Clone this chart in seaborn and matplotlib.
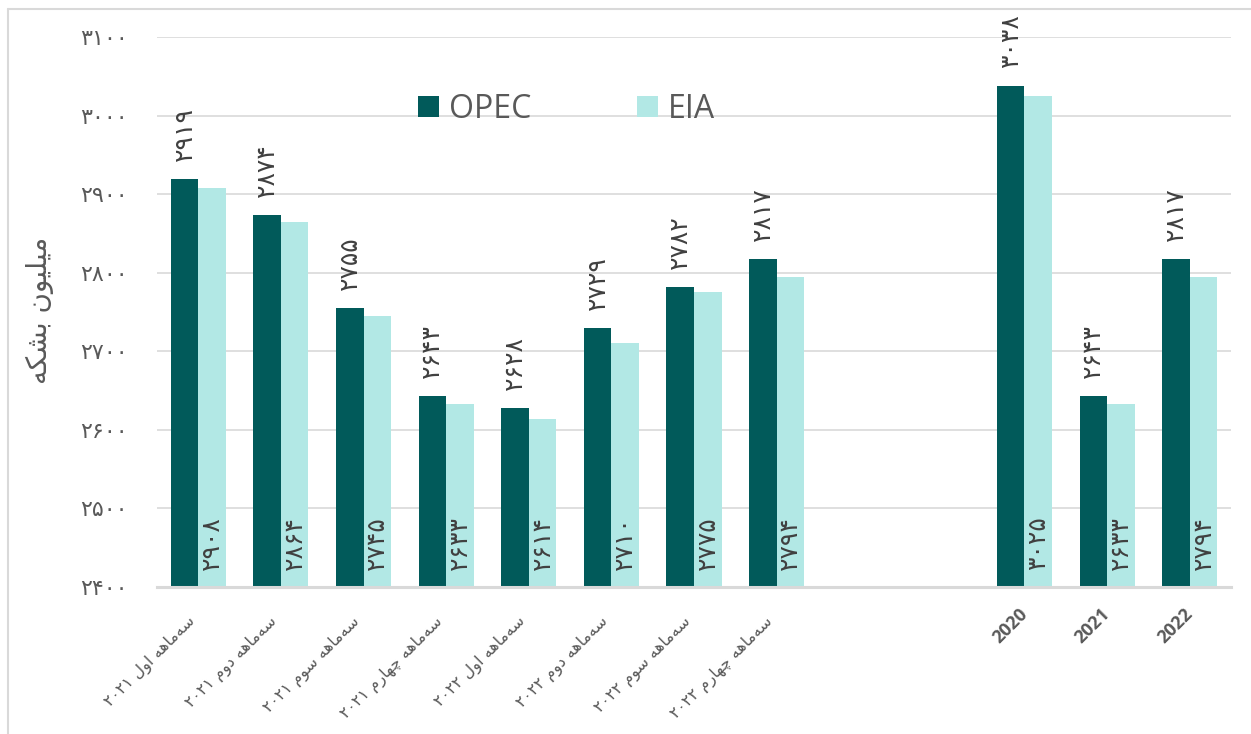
import re
import matplotlib
matplotlib.use("Agg")
import matplotlib.pyplot as plt
import matplotlib.transforms as mtransforms
from matplotlib.patches import Patch
from matplotlib.lines import Line2D
import pandas as pd
import seaborn as sns

# ---------------- data ----------------
categories = ["سه‌ماهه اول ۲۰۲۱", "سه‌ماهه دوم ۲۰۲۱", "سه‌ماهه سوم ۲۰۲۱", "سه‌ماهه چهارم ۲۰۲۱",
              "سه‌ماهه اول ۲۰۲۲", "سه‌ماهه دوم ۲۰۲۲", "سه‌ماهه سوم ۲۰۲۲", "سه‌ماهه چهارم ۲۰۲۲",
              "gap1", "gap2", "2020", "2021", "2022"]
opec = [2919, 2874, 2755, 2643, 2628, 2729, 2782, 2817, None, None, 3038, 2643, 2817]
eia = [2908, 2864, 2745, 2633, 2614, 2710, 2775, 2794, None, None, 3025, 2633, 2794]
series_names = ["OPEC", "EIA"]
y_ticks = [2400, 2500, 2600, 2700, 2800, 2900, 3000, 3100]
y_label = "میلیون بشکه"

colors = {"OPEC": "#015A5A", "EIA": "#B2E8E5"}

# ---------------- simple Persian shaping ----------------
FORMS = {
    'ا': ('\uFE8D', '\uFE8E', None, None),
    'ب': ('\uFE8F', '\uFE90', '\uFE91', '\uFE92'),
    'د': ('\uFEA9', '\uFEAA', None, None),
    'ر': ('\uFEAD', '\uFEAE', None, None),
    'س': ('\uFEB1', '\uFEB2', '\uFEB3', '\uFEB4'),
    'ش': ('\uFEB5', '\uFEB6', '\uFEB7', '\uFEB8'),
    'ل': ('\uFEDD', '\uFEDE', '\uFEDF', '\uFEE0'),
    'م': ('\uFEE1', '\uFEE2', '\uFEE3', '\uFEE4'),
    'ن': ('\uFEE5', '\uFEE6', '\uFEE7', '\uFEE8'),
    'ه': ('\uFEE9', '\uFEEA', '\uFEEB', '\uFEEC'),
    'و': ('\uFEED', '\uFEEE', None, None),
    'ی': ('\uFBFC', '\uFBFD', '\uFBFE', '\uFBFF'),
    'ک': ('\uFB8E', '\uFB8F', '\uFB90', '\uFB91'),
    'چ': ('\uFB7A', '\uFB7B', '\uFB7C', '\uFB7D'),
}


def shape(text):
    out = []
    for i, ch in enumerate(text):
        if ch == '\u200c':
            continue
        if ch not in FORMS:
            out.append(ch)
            continue
        prev = text[i - 1] if i > 0 else None
        nxt = text[i + 1] if i + 1 < len(text) else None
        jp = prev in FORMS and FORMS[prev][2] is not None
        jn = FORMS[ch][2] is not None and nxt in FORMS
        iso, fin, ini, med = FORMS[ch]
        if jp and jn:
            out.append(med)
        elif jp:
            out.append(fin)
        elif jn:
            out.append(ini)
        else:
            out.append(iso)
    return ''.join(out)


def visual(text):
    if not re.search('[\u0600-\u06FF]', text) or re.fullmatch('[۰-۹]+', text):
        return text
    tokens = re.findall('[۰-۹0-9]+|[^۰-۹0-9]+', text)
    res = []
    for t in reversed(tokens):
        if re.fullmatch('[۰-۹0-9]+', t):
            res.append(t)
        else:
            res.append(shape(t)[::-1])
    return ''.join(res)


FA = str.maketrans('0123456789', '۰۱۲۳۴۵۶۷۸۹')


def fa(n):
    return str(int(n)).translate(FA)


# ---------------- frame ----------------
rows = []
for c, o, e in zip(categories, opec, eia):
    if o is not None:
        rows.append({"cat": c, "series": "OPEC", "value": o})
        rows.append({"cat": c, "series": "EIA", "value": e})
df = pd.DataFrame(rows)

sns.set_theme(style="white")
plt.rcParams['font.family'] = ['Open Sans', 'DejaVu Sans']

fig = plt.figure(figsize=(12.51, 7.34), dpi=100)
ax = fig.add_axes([157 / 1251, 1 - 587 / 734, (1231 - 157) / 1251, (587 - 37) / 734])

sns.barplot(data=df, x="cat", y="value", hue="series", order=categories,
            hue_order=series_names, palette=colors, width=0.667,
            saturation=1, ax=ax, legend=False, linewidth=0)

ax.set_ylim(y_ticks[0], y_ticks[-1])
ax.set_yticks(y_ticks)
ax.set_yticklabels([fa(v) for v in y_ticks], family=['DejaVu Sans'], fontsize=16, color='#595959')
ax.tick_params(axis='y', length=0, pad=21)
ax.tick_params(axis='x', length=0, pad=10)
ax.yaxis.grid(True, color='#D9D9D9', linewidth=1.2)
ax.set_axisbelow(True)
for s in ['top', 'right', 'left']:
    ax.spines[s].set_visible(False)
ax.spines['bottom'].set_color('#D9D9D9')
ax.spines['bottom'].set_linewidth(2.2)
ax.set_xlabel("")
ax.set_ylabel("")

# x tick labels
ax.set_xticks(range(len(categories)))
labels = []
for c in categories:
    if c.startswith("gap"):
        labels.append("")
    else:
        labels.append(visual(c))
ax.set_xticklabels(labels)
for lab, c in zip(ax.get_xticklabels(), categories):
    lab.set_rotation(45)
    lab.set_rotation_mode('anchor')
    lab.set_ha('right')
    lab.set_va('center')
    lab.set_color('#595959')
    if re.fullmatch('[0-9]+', c):
        lab.set_fontsize(13)
        lab.set_fontweight('bold')
        lab.set_family(['Open Sans'])
        off = mtransforms.ScaledTranslation(0.0, -0.10, fig.dpi_scale_trans)
    else:
        lab.set_fontsize(11.5)
        lab.set_family(['DejaVu Sans'])
        off = mtransforms.ScaledTranslation(-0.06, -0.18, fig.dpi_scale_trans)
    lab.set_transform(lab.get_transform() + off)

# data labels
base = ax.get_ylim()[0]
opec_bars, eia_bars = ax.containers[0], ax.containers[1]
for bar in opec_bars:
    h = bar.get_height()
    if h != h or h == 0:
        continue
    ax.annotate(fa(h), xy=(bar.get_x() + bar.get_width() / 2, h), xytext=(0, 13),
                textcoords='offset points', rotation=90, ha='center', va='bottom',
                fontsize=18, color='#404040', family=['DejaVu Sans'])
for bar in eia_bars:
    h = bar.get_height()
    if h != h or h == 0:
        continue
    ax.annotate(fa(h), xy=(bar.get_x() + bar.get_width() / 2, base), xytext=(0, 12),
                textcoords='offset points', rotation=90, ha='center', va='bottom',
                fontsize=18, color='#404040', family=['DejaVu Sans'])

# y label
fig.text(40 / 1251, 1 - 310 / 734, visual(y_label), rotation=90, ha='center', va='center',
         fontsize=20, color='#595959', family=['DejaVu Sans'])

# legend
handles = [Patch(facecolor=colors[s], edgecolor='none', label=s) for s in series_names]
fig.legend(handles=handles, loc='center', bbox_to_anchor=(566.5 / 1251, 1 - 109 / 734),
           ncol=2, frameon=False, labelcolor='#595959',
           handlelength=0.66, handleheight=0.66, handletextpad=0.31, columnspacing=3.3,
           prop={'family': 'Open Sans', 'size': 23})

# outer border
fig.add_artist(Line2D([8 / 1251, 1], [1 - 9 / 734, 1 - 9 / 734], color='#D9D9D9', lw=1.5))
fig.add_artist(Line2D([8 / 1251, 8 / 1251], [0, 1 - 9 / 734], color='#D9D9D9', lw=1.5))

fig.savefig("out.png", dpi=100)
